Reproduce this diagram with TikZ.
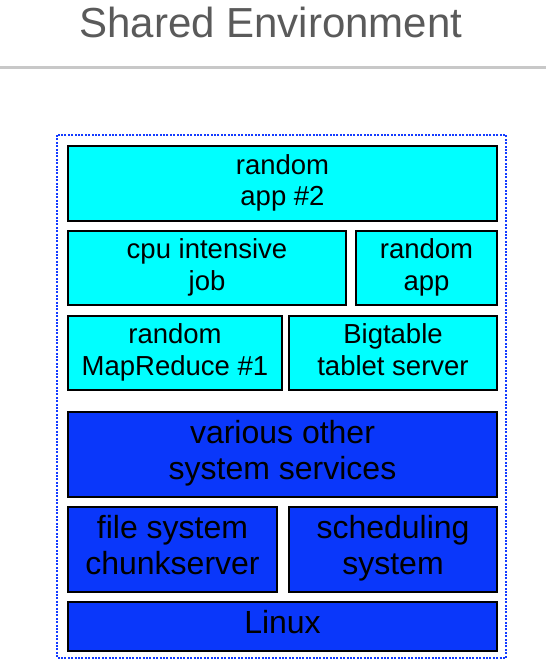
\documentclass[tikz,border=0pt]{standalone}
\usepackage{fontspec}
\setmainfont{Liberation Sans}
\usepackage{xcolor}
\usetikzlibrary{positioning}
\definecolor{appcyan}{RGB}{0,255,255}
\definecolor{sysblue}{RGB}{10,55,250}
\definecolor{dotblue}{RGB}{20,60,255}
\definecolor{titlegray}{RGB}{90,90,90}
\definecolor{rulegray}{RGB}{200,200,200}

\begin{document}
\begin{tikzpicture}[x=1pt, y=-1pt]
		\tikzstyle{every node}=[inner sep=0pt, align=center]
		\tikzstyle{box}=[draw=black, line width=2pt, anchor=center]
		\tikzstyle{appbox}=[box, fill=appcyan, font=\fontsize{27.5}{31.5}\selectfont]
		\tikzstyle{sysbox}=[box, fill=sysblue, font=\fontsize{32}{36}\selectfont]
		\useasboundingbox (0,0) rectangle (546,672);
		% title and rule
		\node [font=\fontsize{42}{48}\selectfont, text=titlegray, anchor=base] (title) at (271,37) {Shared Environment};
		\draw [line width=3pt, rulegray] (0,67) -- (546,67);
		% shared machine
		\draw [line width=2.2pt, dotblue, dash pattern=on 2pt off 1.4pt] (57,135) rectangle (506,658);
		% user jobs
		\node [appbox, minimum width=429, minimum height=75] (app2) at (282.5,183.5) {\strut random\\\strut app \#2};
		\node [appbox, minimum width=278, minimum height=74] (cpujob) at (207,268) {\strut cpu intensive\\\strut job};
		\node [appbox, minimum width=141, minimum height=74] (app1) at (426.5,268) {\strut random\\\strut app};
		\node [appbox, minimum width=214, minimum height=74] (mapred) at (175,353) {\strut random\\\strut MapReduce \#1};
		\node [appbox, minimum width=208, minimum height=74] (bigtable) at (393,353) {\strut Bigtable\\\strut tablet server};
		% system layer
		\node [sysbox, minimum width=429, minimum height=85] (services) at (282.5,454.5) {\strut various other\\\strut system services};
		\node [sysbox, minimum width=209, minimum height=85] (chunk) at (172.5,549.5) {\strut file system\\\strut chunkserver};
		\node [sysbox, minimum width=208, minimum height=85] (sched) at (393,549.5) {\strut scheduling\\\strut system};
		\node [sysbox, minimum width=429, minimum height=49] (linux) at (282.5,626.5) {\strut Linux};
\end{tikzpicture}
\end{document}
